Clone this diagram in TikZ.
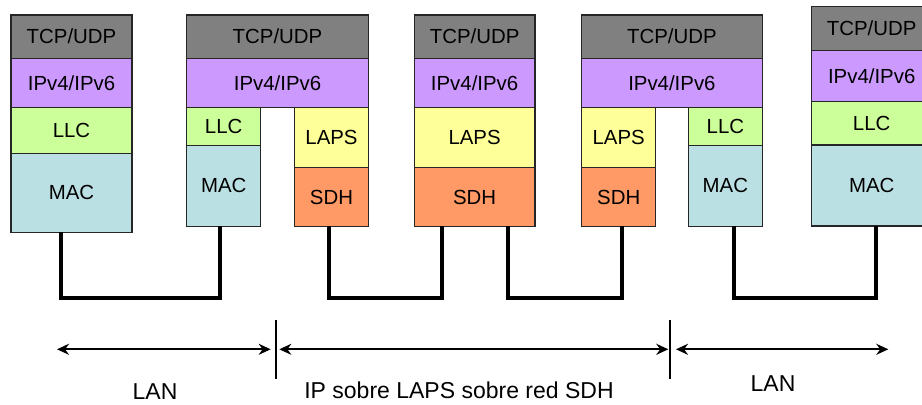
\documentclass[tikz,border=0pt]{standalone}
\usepackage{fontspec}
\setmainfont{Liberation Sans}
\usepackage{tikz}
\usetikzlibrary{arrows.meta,positioning}
\definecolor{tcpgray}{RGB}{128,128,128}
\definecolor{ippurple}{RGB}{204,153,255}
\definecolor{llcgreen}{RGB}{204,255,153}
\definecolor{macblue}{RGB}{187,224,227}
\definecolor{lapsyellow}{RGB}{255,255,153}
\definecolor{sdhorange}{RGB}{255,153,102}
\tikzset{
  layer/.style={draw=black!85, line width=0.6pt, inner sep=0pt, outer sep=0pt,
    anchor=north west, font=\fontsize{10.2}{12}\selectfont},
  tcpbox/.style={layer, fill=tcpgray, minimum height=21.7pt},
  ipbox/.style={layer, fill=ippurple, minimum height=24.7pt},
  llcbox/.style={layer, fill=llcgreen},
  macbox/.style={layer, fill=macblue},
  lapsbox/.style={layer, fill=lapsyellow, minimum height=30pt},
  sdhbox/.style={layer, fill=sdhorange, minimum height=29.2pt},
  link/.style={line width=2pt, line join=miter},
  spanarr/.style={{Stealth[length=6pt,width=5.5pt]}-{Stealth[length=6pt,width=5.5pt]}, line width=1pt},
  sepline/.style={line width=0.6pt},
  zone/.style={font=\fontsize{11.5}{13}\selectfont},
}

\begin{document}
\begin{tikzpicture}[x=0.5pt, y=-0.5pt]
  \useasboundingbox (0,0) rectangle (922,405);
  \clip (0,0) rectangle (922,405);

  % LAN host
  \node[tcpbox, minimum width=60.5pt] (tcpA) at (11,15) {TCP/UDP};
  \node[ipbox, minimum width=60.5pt] (ipA) at (tcpA.south west) {IPv4/IPv6};
  \node[llcbox, minimum width=60.5pt, minimum height=22.7pt] (llcA) at (ipA.south west) {LLC};
  \node[macbox, minimum width=60.5pt, minimum height=39.5pt] (macA) at (llcA.south west) {MAC};

  % router LAN / SDH
  \node[tcpbox, minimum width=90.8pt] (tcpB) at (186.7,15) {TCP/UDP};
  \node[ipbox, minimum width=90.8pt] (ipB) at (tcpB.south west) {IPv4/IPv6};
  \node[llcbox, minimum width=37pt, minimum height=18.7pt] (llcB) at (ipB.south west) {LLC};
  \node[macbox, minimum width=37pt, minimum height=40.5pt] (macB) at (llcB.south west) {MAC};
  \node[lapsbox, minimum width=36.8pt, anchor=north east] (lapsB) at (ipB.south east) {LAPS};
  \node[sdhbox, minimum width=36.8pt] (sdhB) at (lapsB.south west) {SDH};

  % SDH node
  \node[tcpbox, minimum width=60.3pt] (tcpC) at (414.3,15) {TCP/UDP};
  \node[ipbox, minimum width=60.3pt] (ipC) at (tcpC.south west) {IPv4/IPv6};
  \node[lapsbox, minimum width=60.3pt] (lapsC) at (ipC.south west) {LAPS};
  \node[sdhbox, minimum width=60.3pt] (sdhC) at (lapsC.south west) {SDH};

  % router SDH / LAN
  \node[tcpbox, minimum width=90.2pt] (tcpD) at (581.7,15) {TCP/UDP};
  \node[ipbox, minimum width=90.2pt] (ipD) at (tcpD.south west) {IPv4/IPv6};
  \node[lapsbox, minimum width=37pt] (lapsD) at (ipD.south west) {LAPS};
  \node[sdhbox, minimum width=37pt] (sdhD) at (lapsD.south west) {SDH};
  \node[llcbox, minimum width=36.7pt, minimum height=18.7pt, anchor=north east] (llcD) at (ipD.south east) {LLC};
  \node[macbox, minimum width=36.7pt, minimum height=40.5pt] (macD) at (llcD.south west) {MAC};

  % LAN host
  \node[tcpbox, minimum width=60pt, minimum height=22pt] (tcpE) at (811.7,6.7) {TCP/UDP};
  \node[ipbox, minimum width=60pt, minimum height=25.5pt] (ipE) at (tcpE.south west) {IPv4/IPv6};
  \node[llcbox, minimum width=60pt, minimum height=21.7pt] (llcE) at (ipE.south west) {LLC};
  \node[macbox, minimum width=60pt, minimum height=40.5pt] (macE) at (llcE.south west) {MAC};

  % physical links
  \draw[link] ([xshift=-5.25pt]macA.south) -- ++(0,65.7) -| ([xshift=-1.65pt]macB.south);
  \draw[link] ([xshift=-1.25pt]sdhB.south) -- ++(0,71.7) -| ([xshift=-16.5pt]sdhC.south);
  \draw[link] ([xshift=16.8pt]sdhC.south) -- ++(0,71.7) -| ([xshift=1.5pt]sdhD.south);
  \draw[link] ([xshift=4.5pt]macD.south) -- ++(0,71.7) -| ([xshift=2.15pt]macE.south);

  % extent of each network
  \coordinate (lanAL) at (57,349.3);
  \coordinate (lanAR) at (270.7,349.3);
  \coordinate (cutAtop) at (276,320);
  \coordinate (cutAbot) at (276,379.3);
  \coordinate (sdhL) at (279.3,349.3);
  \coordinate (sdhR) at (668.3,349.3);
  \coordinate (cutBtop) at (670,320);
  \coordinate (cutBbot) at (670,379.3);
  \coordinate (lanBL) at (676,349.3);
  \coordinate (lanBR) at (888.3,349.3);
  \draw[spanarr] (lanAL) -- (lanAR);
  \draw[spanarr] (sdhL) -- (sdhR);
  \draw[spanarr] (lanBL) -- (lanBR);
  \draw[sepline] (cutAtop) -- (cutAbot);
  \draw[sepline] (cutBtop) -- (cutBbot);

  \node[zone] (lanA) at (155,391.7) {LAN};
  \node[zone] (ipsdh) at (459,390) {IP sobre LAPS sobre red SDH};
  \node[zone] (lanB) at (773,383.3) {LAN};
\end{tikzpicture}
\end{document}
